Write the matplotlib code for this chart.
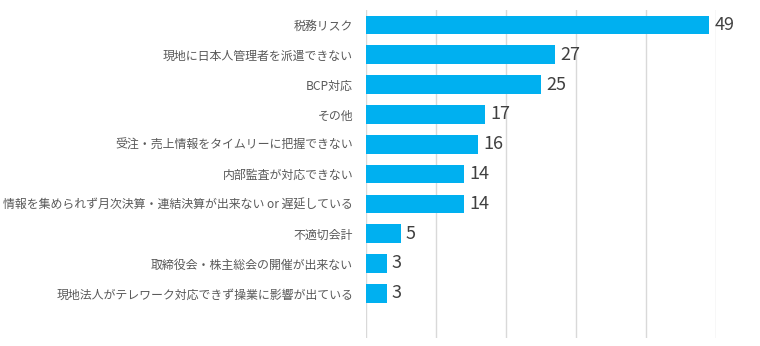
import numpy as np
import matplotlib.pyplot as plt

plt.rcParams['font.family'] = ['Noto Sans CJK JP', 'DejaVu Sans']

# データ（上から順）
labels = ['税務リスク',
          '現地に日本人管理者を派遣できない',
          'BCP対応',
          'その他',
          '受注・売上情報をタイムリーに把握できない',
          '内部監査が対応できない',
          '情報を集められず月次決算・連結決算が出来ない or 遅延している',
          '不適切会計',
          '取締役会・株主総会の開催が出来ない',
          '現地法人がテレワーク対応できず操業に影響が出ている']
values = [49, 27, 25, 17, 16, 14, 14, 5, 3, 3]

fig = plt.figure(figsize=(7.6, 3.46), dpi=100)
ax = fig.add_axes([0.481, 0.023, 0.461, 0.948])

y = np.arange(len(labels))
ax.barh(y, values, height=0.625, color='#00b0f0', zorder=3)

for yi, v in zip(y, values):
    ax.text(v + 0.75, yi, str(v), va='center', ha='left',
            fontsize=13, color='#404040')

ax.set_xlim(0, 50)
ax.set_ylim(len(labels) + 0.5, -0.5)
ax.set_xticks(np.arange(0, 51, 10))
ax.set_xticklabels([])
ax.set_yticks(y)
ax.set_yticklabels(labels, fontsize=8.6, color='#595959')
ax.tick_params(axis='both', length=0)
ax.tick_params(axis='y', pad=9)
ax.grid(axis='x', color='#d9d9d9', linewidth=1, zorder=0)
for s in ax.spines.values():
    s.set_visible(False)

fig.savefig('out.png', dpi=100)
